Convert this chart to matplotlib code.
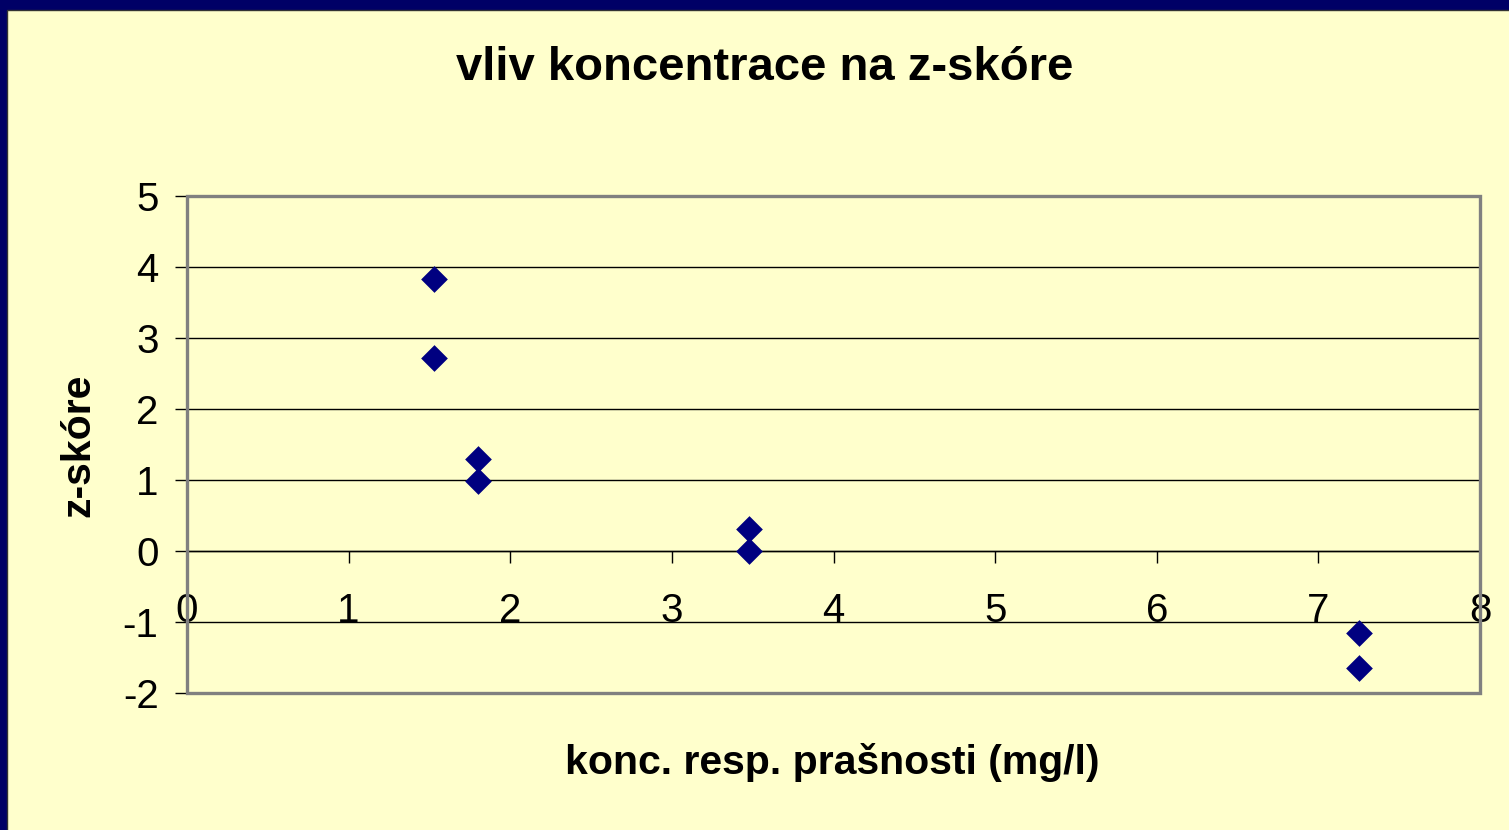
import matplotlib
matplotlib.use("Agg")
import matplotlib.pyplot as plt
from matplotlib.patches import Rectangle

# Data
conc = [1.53, 1.53, 1.80, 1.80, 3.48, 3.48, 7.25, 7.25]
zscore = [3.83, 2.72, 1.29, 0.99, 0.31, 0.0, -1.16, -1.65]
x_ticks = [0, 1, 2, 3, 4, 5, 6, 7, 8]
y_ticks = [-2, -1, 0, 1, 2, 3, 4, 5]
title = "vliv koncentrace na z-skóre"
xlabel = "konc. resp. prašnosti (mg/l)"
ylabel = "z-skóre"

plt.rcParams['font.family'] = ['Liberation Sans', 'DejaVu Sans']

W, H = 1509, 830
fig = plt.figure(figsize=(W / 100, H / 100), dpi=100)
fig.patch.set_facecolor('#000066')

# yellow slide frame
fig.patches.append(Rectangle((7 / W, -0.01), 1.01 - 7 / W, 1.01 - 10 / H, transform=fig.transFigure,
                             facecolor='#FFFFCC', edgecolor='#333333', lw=1.0, zorder=-10))

L, R, T, B = 187, 1480, 196, 693
ax = fig.add_axes([L / W, 1 - B / H, (R - L) / W, (B - T) / H])
ax.set_facecolor('#FFFFCC')
ax.set_xlim(0, 8)
ax.set_ylim(-2, 5)

# gridlines
for y in y_ticks[1:-1]:
    ax.axhline(y, color='black', lw=1.0, zorder=1)

ax.scatter(conc, zscore, marker='D', s=185, color='#000080', zorder=5, linewidths=0)

for s in ['top', 'right', 'left']:
    ax.spines[s].set_visible(False)
ax.spines['bottom'].set_position(('data', 0))
ax.spines['bottom'].set_color('black')
ax.spines['bottom'].set_linewidth(1.0)

ax.add_patch(Rectangle((0, 0), 1, 1, transform=ax.transAxes, fill=False,
                       edgecolor='#808080', lw=2.4, clip_on=False, zorder=6))

ax.set_xticks(x_ticks)
ax.set_yticks(y_ticks)
ax.set_xticklabels([str(v) for v in x_ticks])
ax.set_yticklabels([str(v) for v in y_ticks])
ax.tick_params(axis='x', direction='out', length=8.5, width=1.0, color='black',
               pad=21, labelsize=29)
ax.tick_params(axis='y', direction='out', length=8.5, width=1.0, color='black',
               pad=12, labelsize=29)

fig.text(765 / W, 1 - 68 / H, title, ha='center', va='center', fontsize=34,
         fontweight='bold', color='black')
fig.text(832 / W, 1 - 762 / H, xlabel, ha='center', va='center', fontsize=29.5,
         fontweight='bold', color='black')
fig.text(78 / W, 1 - 445 / H, ylabel, ha='center', va='center', fontsize=29.5,
         fontweight='bold', color='black', rotation=90)

fig.savefig('out.png', dpi=100, facecolor=fig.get_facecolor())
